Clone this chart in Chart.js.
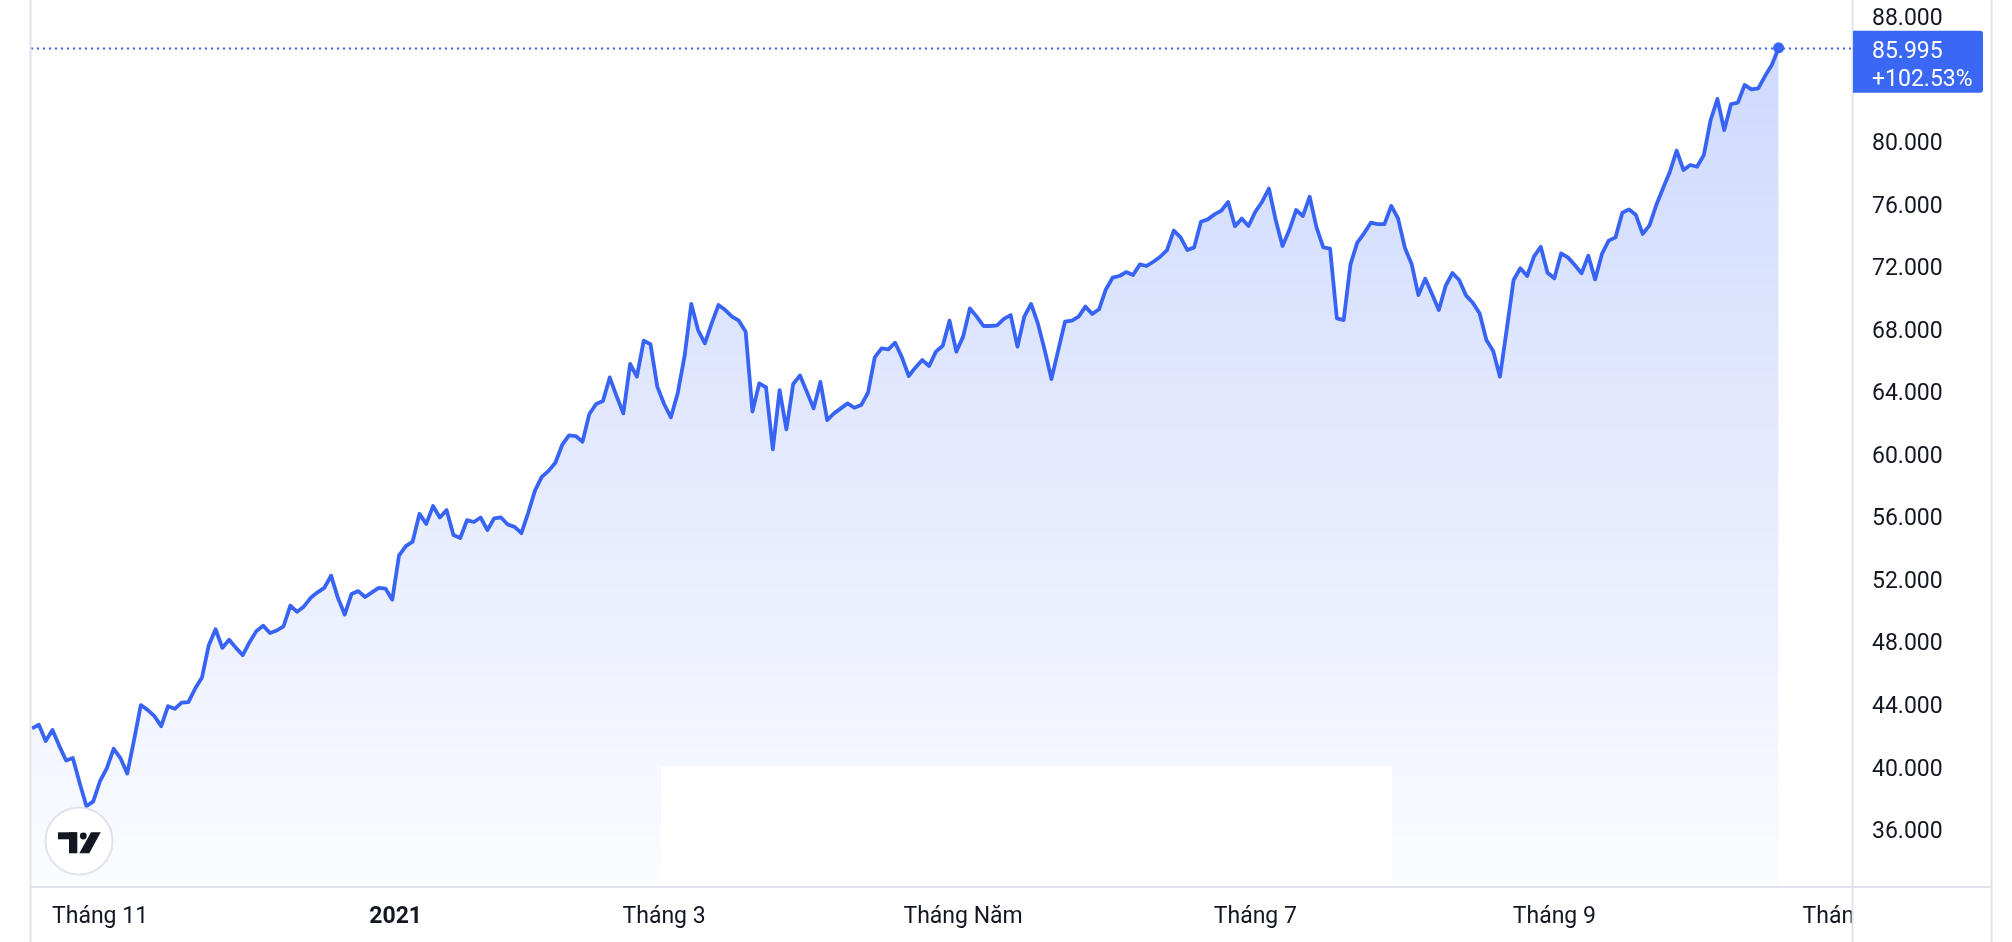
<!DOCTYPE html>
<html>
<head>
<meta charset="utf-8">
<script src="https://cdn.jsdelivr.net/npm/chart.js@4.4.1/dist/chart.umd.min.js"></script>
<style>
  html, body { margin: 0; padding: 0; background: #fff; }
  #wrap { width: 2012px; height: 942px; }
</style>
</head>
<body>
<div id="wrap"><canvas id="priceChart" width="2012" height="942"></canvas></div>
<script>
// ─── Data ───

// daily closes, one per trading session (thousands)
var prices = [
  42.46, 42.69, 41.65, 42.36, 41.34, 40.40, 40.56, 38.97, 37.48, 37.79,
  39.09, 39.92, 41.15, 40.56, 39.57, 41.70, 43.95, 43.64, 43.24, 42.60,
  43.88, 43.71, 44.11, 44.14, 45.01, 45.72, 47.78, 48.80, 47.61, 48.13,
  47.61, 47.14, 47.97, 48.68, 49.03, 48.56, 48.72, 48.99, 50.31, 49.91,
  50.26, 50.81, 51.16, 51.45, 52.23, 50.81, 49.74, 51.05, 51.24, 50.86,
  51.16, 51.45, 51.40, 50.69, 53.53, 54.12, 54.41, 56.18, 55.54, 56.68,
  55.95, 56.42, 54.83, 54.64, 55.78, 55.66, 55.95, 55.14, 55.90, 55.95,
  55.50, 55.35, 54.95, 56.25, 57.67, 58.55, 58.93, 59.45,
  60.59, 61.20, 61.16, 60.80, 62.57, 63.21, 63.40, 64.91, 63.72, 62.61,
  65.77, 64.96, 67.26, 67.03, 64.32, 63.21, 62.36, 63.89, 66.24, 69.61,
  67.94, 67.09, 68.37, 69.54, 69.22, 68.80, 68.54, 67.84, 62.72, 64.53,
  64.27, 60.31, 64.10, 61.59, 64.49, 65.04, 64.00, 62.93, 64.62, 62.18,
  62.61, 62.93, 63.25, 62.97, 63.14, 63.93, 66.19, 66.77, 66.71, 67.13,
  66.19, 65.00, 65.55, 66.02, 65.64, 66.56, 66.94, 68.54, 66.56, 67.52,
  69.33, 68.80, 68.20, 68.20, 68.24, 68.65, 68.90, 66.88, 68.80, 69.61,
  68.37, 66.66, 64.81, 66.66, 68.48, 68.54, 68.80, 69.44, 68.97,
  69.27, 70.54, 71.29, 71.40, 71.65, 71.46, 72.14, 72.04, 72.31, 72.63,
  73.06, 74.30, 73.87, 73.06, 73.23, 74.87, 75.02, 75.34, 75.58, 76.13,
  74.58, 75.07, 74.60, 75.51, 76.15, 76.99, 74.98, 73.32, 74.34, 75.62,
  75.24, 76.47, 74.51, 73.23, 73.15, 68.69, 68.58, 72.14, 73.53, 74.13,
  74.81, 74.72, 74.72, 75.88, 75.09, 73.21, 72.17, 70.18, 71.23, 70.25,
  69.22, 70.76, 71.59, 71.14, 70.16, 69.69, 69.01, 67.30, 66.60, 64.96,
  68.00, 71.14, 71.89, 71.40, 72.64, 73.27, 71.61, 71.25, 72.85, 72.59,
  72.10, 71.57, 72.70, 71.18, 72.81, 73.66, 73.87, 75.45, 75.66, 75.30,
  74.09, 74.64, 75.94, 77.01, 78.07, 79.42, 78.18, 78.50, 78.39, 79.14,
  81.38, 82.72, 80.74, 82.40, 82.49, 83.62, 83.34, 83.40, 84.19, 84.90,
  85.995
];

// session index where each month label sits
var xTickIndex = [10, 53.5, 93, 137, 180, 224, 267.6];
var xTickLabels = ["Tháng 11", "2021", "Tháng 3", "Tháng Năm", "Tháng 7", "Tháng 9", "Tháng 11"];

// price scale labels (84 is hidden behind the last-price tag)
var yTicks = [36, 40, 44, 48, 52, 56, 60, 64, 68, 72, 76, 80, 88];

// ─── Look ───

var colors = {
  line: "rgb(56, 100, 246)",
  tag: "rgb(58, 104, 245)",
  text: "#131722",
  border: "#e0e3eb",
};
var FONT = "Roboto, 'Noto Sans', sans-serif";

var lastValue = prices[prices.length - 1];
var changePct = (lastValue / prices[0] - 1) * 100;

function drawLogo(ctx, cx, cy) {
  ctx.beginPath();
  ctx.arc(cx, cy, 33.5, 0, Math.PI * 2);
  ctx.fillStyle = "#fff";
  ctx.fill();
  ctx.lineWidth = 2;
  ctx.strokeStyle = colors.border;
  ctx.stroke();

  ctx.fillStyle = colors.text;
  ctx.fillRect(cx - 21, cy - 8.7, 19, 7);
  ctx.fillRect(cx - 10, cy - 8.7, 8.3, 21);
  ctx.beginPath();
  ctx.arc(cx + 4.3, cy - 5, 3.4, 0, Math.PI * 2);
  ctx.fill();
  ctx.beginPath();
  ctx.moveTo(cx + 12, cy - 8.7);
  ctx.lineTo(cx + 21.7, cy - 8.7);
  ctx.lineTo(cx + 10.3, cy + 12.3);
  ctx.lineTo(cx + 0.3, cy + 12.3);
  ctx.closePath();
  ctx.fill();
}

var decorPlugin = {
  id: "decor",
  beforeDatasetsDraw: function (chart) {
    var ctx = chart.ctx;
    var area = chart.chartArea;
    var y = Math.round(chart.scales.y.getPixelForValue(lastValue)) + 0.5;
    ctx.save();
    ctx.strokeStyle = colors.line;
    ctx.lineWidth = 2;
    ctx.setLineDash([2, 4]);
    ctx.beginPath();
    ctx.moveTo(area.left, y);
    ctx.lineTo(area.right, y);
    ctx.stroke();
    ctx.restore();
  },
  afterDatasetsDraw: function (chart) {
    // blank panel sitting over the bottom of the area fill
    var ctx = chart.ctx;
    var area = chart.chartArea;
    ctx.save();
    ctx.fillStyle = "#fff";
    ctx.fillRect(area.left + 630, area.bottom - 121, 731, 121);
    ctx.restore();
  },
  afterDraw: function (chart) {
    var ctx = chart.ctx;
    var area = chart.chartArea;
    var yScale = chart.scales.y;
    var W = chart.width, H = chart.height;
    var rightEdge = area.right + yScale.width;

    ctx.save();
    // last time label runs under the price scale
    ctx.fillStyle = "#fff";
    ctx.fillRect(area.right, area.bottom, W - area.right, H - area.bottom);

    // panel borders
    ctx.strokeStyle = colors.border;
    ctx.lineWidth = 2;
    ctx.beginPath();
    ctx.moveTo(area.left - 0.5, 0);
    ctx.lineTo(area.left - 0.5, H);
    ctx.moveTo(area.right + 0.5, 0);
    ctx.lineTo(area.right + 0.5, H);
    ctx.moveTo(rightEdge - 0.5, 0);
    ctx.lineTo(rightEdge - 0.5, H);
    ctx.moveTo(area.left, area.bottom);
    ctx.lineTo(rightEdge, area.bottom);
    ctx.stroke();

    // last price tag
    var y = yScale.getPixelForValue(lastValue);
    var bx = area.right + 1, bw = 130, by = y - 17, bh = 62;
    ctx.fillStyle = colors.tag;
    ctx.beginPath();
    ctx.moveTo(bx, by);
    ctx.lineTo(bx + bw - 3, by);
    ctx.quadraticCurveTo(bx + bw, by, bx + bw, by + 3);
    ctx.lineTo(bx + bw, by + bh - 3);
    ctx.quadraticCurveTo(bx + bw, by + bh, bx + bw - 3, by + bh);
    ctx.lineTo(bx, by + bh);
    ctx.closePath();
    ctx.fill();
    ctx.fillStyle = "#fff";
    ctx.font = "23px " + FONT;
    ctx.textAlign = "left";
    ctx.textBaseline = "middle";
    ctx.fillText(lastValue.toFixed(3), area.right + 20, y + 4);
    ctx.fillText("+" + changePct.toFixed(2) + "%", area.right + 20, y + 32.5);

    drawLogo(ctx, area.left + 48, area.bottom - 46);
    ctx.restore();
  },
};

// ─── Chart ───

function renderPriceChart() {
  var canvas = document.getElementById("priceChart");
  var points = prices.map(function (v, i) { return { x: i, y: v }; });

  new Chart(canvas, {
    type: "line",
    data: {
      datasets: [
        {
          data: points,
          borderColor: colors.line,
          borderWidth: 3.8,
          borderJoinStyle: "round",
          tension: 0,
          fill: "start",
          backgroundColor: function (c) {
            var area = c.chart.chartArea;
            if (!area) return "rgba(56, 100, 246, 0.1)";
            var g = c.chart.ctx.createLinearGradient(0, area.top, 0, area.bottom);
            g.addColorStop(0, "rgba(56, 100, 246, 0.26)");
            g.addColorStop(1, "rgba(56, 100, 246, 0.02)");
            return g;
          },
          pointRadius: function (c) { return c.dataIndex === prices.length - 1 ? 5.5 : 0; },
          pointBackgroundColor: colors.line,
          pointBorderWidth: 0,
        },
      ],
    },
    options: {
      responsive: false,
      devicePixelRatio: 1,
      animation: false,
      events: [],
      layout: { autoPadding: false, padding: { left: 31, right: 20, top: 0, bottom: 0 } },
      plugins: {
        legend: { display: false },
        tooltip: { enabled: false },
      },
      scales: {
        x: {
          type: "linear",
          min: -0.16,
          max: 267.8,
          grid: { display: false, drawTicks: false },
          border: { display: false },
          afterBuildTicks: function (scale) {
            scale.ticks = xTickIndex.map(function (v) { return { value: v }; });
          },
          afterFit: function (scale) {
            scale.height = 55;
            scale.paddingLeft = 0;
            scale.paddingRight = 0;
          },
          ticks: {
            autoSkip: false,
            maxRotation: 0,
            padding: 16,
            color: colors.text,
            font: function (c) {
              var bold = c.tick && xTickLabels[c.index] === "2021";
              return { family: FONT, size: 23, weight: bold ? "bold" : "normal" };
            },
            callback: function (value, i) { return xTickLabels[i]; },
          },
        },
        y: {
          position: "right",
          min: 32.31,
          max: 89.056,
          grid: { display: false, drawTicks: false },
          border: { display: false },
          afterBuildTicks: function (scale) {
            scale.ticks = yTicks.map(function (v) { return { value: v }; });
          },
          afterFit: function (scale) {
            scale.width = 140;
            scale.paddingTop = 0;
            scale.paddingBottom = 0;
          },
          ticks: {
            padding: 20,
            labelOffset: 3,
            color: colors.text,
            font: { family: FONT, size: 23 },
            callback: function (value) { return Number(value).toFixed(3); },
          },
        },
      },
    },
    plugins: [decorPlugin],
  });
}

renderPriceChart();
</script>
</body>
</html>
